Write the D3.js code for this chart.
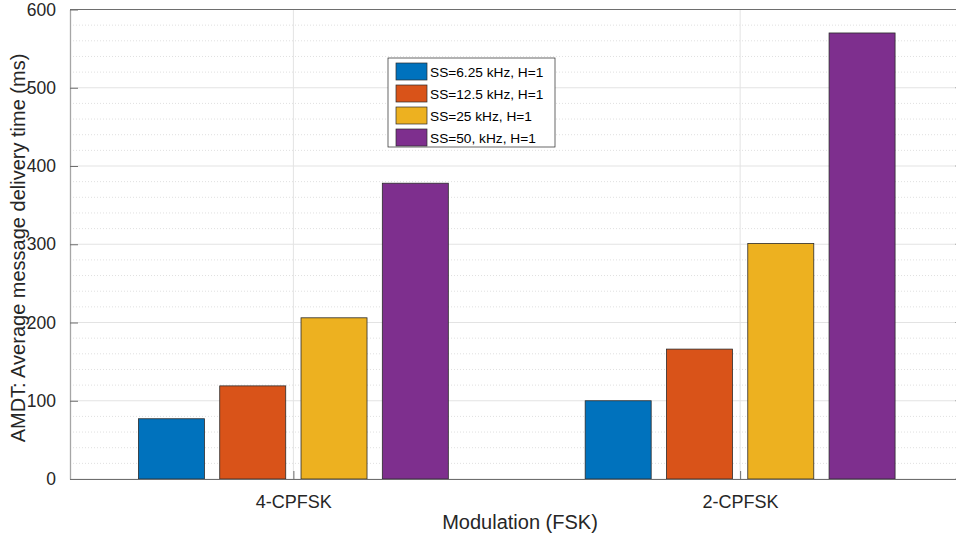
<!DOCTYPE html>
<html><head><meta charset="utf-8">
<script src="https://cdn.jsdelivr.net/npm/d3@7"></script>
<style>body{margin:0;background:#fff;overflow:hidden}svg{display:block;font-family:"Liberation Sans",Arial,Helvetica,sans-serif}</style>
</head><body>
<svg id="c" width="956" height="537"></svg>
<script>
const categories = ["4-CPFSK", "2-CPFSK"];
const seriesNames = ["SS=6.25 kHz, H=1", "SS=12.5 kHz, H=1", "SS=25 kHz, H=1", "SS=50, kHz, H=1"];
const colors = ["#0072BD", "#D95319", "#EDB120", "#7E2F8E"];
const values = [
  [77, 100],
  [119, 166],
  [206, 301],
  [378, 570]
];
const yTicks = [0, 100, 200, 300, 400, 500, 600];

const svg = d3.select("#c");
const L = 70, R = 963.5, T = 9.5, B = 479;
const x = d3.scalePoint().domain(categories).range([L, R]).padding(0.5);
const y = d3.scaleLinear().domain([0, 600]).range([B, T]);
const step = 81.3, bw = 66;

// minor grid
const minor = d3.range(0, 601, 20).filter(v => v % 100 !== 0);
svg.append("g").selectAll("line").data(minor).join("line")
  .attr("x1", L).attr("x2", R).attr("y1", d => y(d)).attr("y2", d => y(d))
  .attr("stroke", "#e0e0e0").attr("stroke-width", 1).attr("stroke-dasharray", "1,2");
// major grid
svg.append("g").selectAll("line").data(yTicks).join("line")
  .attr("x1", L).attr("x2", R).attr("y1", d => y(d)).attr("y2", d => y(d))
  .attr("stroke", "#e3e3e3").attr("stroke-width", 1);
svg.append("g").selectAll("line").data(categories).join("line")
  .attr("x1", d => x(d)).attr("x2", d => x(d)).attr("y1", T).attr("y2", B)
  .attr("stroke", "#e3e3e3").attr("stroke-width", 1);

// bars
values.forEach((ser, si) => {
  svg.append("g").selectAll("rect").data(ser).join("rect")
    .attr("x", (d, i) => x(categories[i]) + (si - 1.5) * step - bw / 2)
    .attr("width", bw)
    .attr("y", d => y(d))
    .attr("height", d => B - y(d))
    .attr("fill", colors[si])
    .attr("stroke", "#2b2b2b").attr("stroke-width", 0.8);
});

// axes
const yAx = svg.append("g").attr("transform", `translate(${L},0)`)
  .call(d3.axisLeft(y).tickValues(yTicks).tickSizeInner(-8).tickSizeOuter(0).tickPadding(14));
yAx.select(".domain").attr("stroke", "#a6a6a6").attr("stroke-width", 1.3);
yAx.selectAll(".tick line").attr("stroke", "#6e6e6e");
yAx.selectAll("text").attr("font-size", 17.5).attr("fill", "#262626");

const xAx = svg.append("g").attr("transform", `translate(0,${B})`)
  .call(d3.axisBottom(x).tickSizeInner(-8).tickSizeOuter(0).tickPadding(16));
xAx.select(".domain").attr("stroke", "#6e6e6e");
xAx.selectAll(".tick line").attr("stroke", "#6e6e6e");
xAx.selectAll("text").attr("font-size", 18).attr("fill", "#262626");

// top border and right ticks
svg.append("line").attr("x1", L).attr("x2", R).attr("y1", T).attr("y2", T).attr("stroke", "#6e6e6e");
svg.append("line").attr("x1", R).attr("x2", R).attr("y1", T).attr("y2", B).attr("stroke", "#6e6e6e");
svg.append("g").selectAll("line").data(yTicks).join("line")
  .attr("x1", R - 8).attr("x2", R).attr("y1", d => y(d)).attr("y2", d => y(d)).attr("stroke", "#6e6e6e");

// axis labels
svg.append("text").attr("x", 520).attr("y", 529).attr("text-anchor", "middle")
  .attr("font-size", 20).attr("fill", "#262626").text("Modulation (FSK)");
svg.append("text").attr("transform", `translate(25,248) rotate(-90)`).attr("text-anchor", "middle")
  .attr("font-size", 20).attr("fill", "#262626").text("AMDT: Average message delivery time (ms)");

// legend
const lg = svg.append("g").attr("transform", "translate(388,58)");
lg.append("rect").attr("width", 167).attr("height", 89).attr("fill", "#fff").attr("stroke", "#262626").attr("stroke-width", 0.7);
seriesNames.forEach((n, i) => {
  const r = lg.append("g").attr("transform", `translate(8,${5 + i * 22})`);
  r.append("rect").attr("width", 31).attr("height", 17).attr("fill", colors[i]).attr("stroke", "#2b2b2b").attr("stroke-width", 0.7);
  r.append("text").attr("x", 34).attr("y", 14).attr("font-size", 13.7).attr("fill", "#000").text(n);
});
</script>
</body></html>
